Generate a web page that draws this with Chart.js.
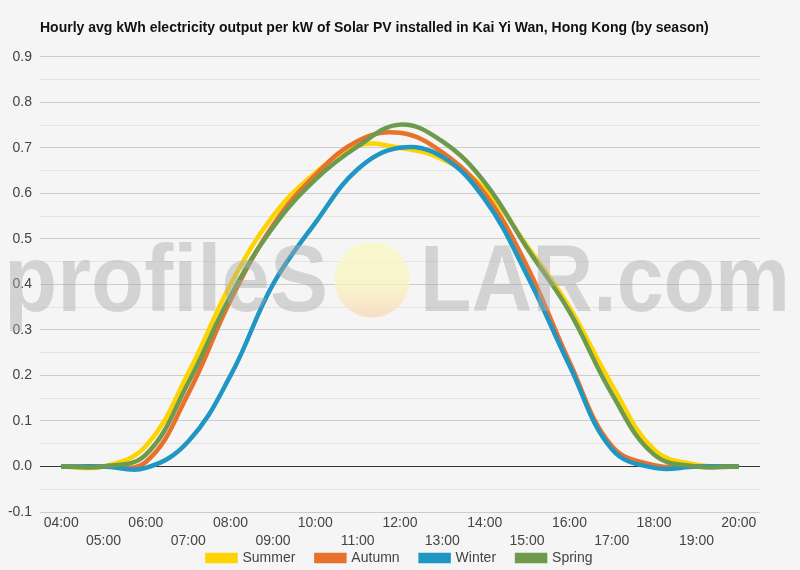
<!DOCTYPE html>
<html>
<head>
<meta charset="utf-8">
<script src="https://cdn.jsdelivr.net/npm/chart.js@4.4.1/dist/chart.umd.min.js"></script>
<style>
  html, body { margin: 0; padding: 0; background: #f5f5f5; }
  #wrap { width: 800px; height: 570px; position: relative; }
</style>
</head>
<body>
<div id="wrap"><canvas id="pv-chart"></canvas></div>
<script>
var hours = ["04:00","05:00","06:00","07:00","08:00","09:00","10:00","11:00","12:00",
             "13:00","14:00","15:00","16:00","17:00","18:00","19:00","20:00"];

var summer = [0, 0, 0.045, 0.205, 0.40, 0.55, 0.645, 0.705, 0.70, 0.675, 0.61, 0.485, 0.35, 0.18, 0.037, 0.004, 0];
var autumn = [0, 0, 0.010, 0.160, 0.365, 0.53, 0.64, 0.715, 0.733, 0.69, 0.60, 0.44, 0.23, 0.045, 0.003, 0, 0];
var winter = [0, 0, -0.003, 0.055, 0.20, 0.40, 0.535, 0.653, 0.70, 0.68, 0.587, 0.42, 0.222, 0.038, -0.003, 0, 0];
var spring = [0, 0, 0.026, 0.184, 0.375, 0.525, 0.63, 0.703, 0.751, 0.714, 0.624, 0.48, 0.34, 0.16, 0.026, 0, 0];

var yTicks = [-0.1, 0, 0.1, 0.2, 0.3, 0.4, 0.5, 0.6, 0.7, 0.8, 0.9];

var FONT = '"Liberation Sans", Arial, sans-serif';

var watermark = {
  id: 'watermark',
  afterDatasetsDraw: function(chart) {
    var ctx = chart.ctx;
    ctx.save();
    // sun as the "O"
    var g = ctx.createLinearGradient(0, 242, 0, 318);
    g.addColorStop(0, 'rgba(250,250,195,0.8)');
    g.addColorStop(0.6, 'rgba(250,242,195,0.8)');
    g.addColorStop(1, 'rgba(246,216,188,0.8)');
    ctx.fillStyle = g;
    ctx.beginPath();
    ctx.arc(372, 280, 37.5, 0, Math.PI * 2);
    ctx.fill();

    ctx.fillStyle = 'rgba(170,170,170,0.45)';
    ctx.font = 'bold 94px ' + FONT;
    ctx.textBaseline = 'alphabetic';
    function fitText(txt, x0, x1) {
      var w = ctx.measureText(txt).width;
      ctx.save();
      ctx.translate(x0, 311);
      ctx.scale((x1 - x0) / w, 1);
      ctx.fillText(txt, 0, 0);
      ctx.restore();
    }
    fitText('profileS', 4, 328);
    fitText('LAR.com', 420, 790);
    ctx.restore();
  }
};

function line(label, data, color, order) {
  return {
    label: label,
    data: data,
    borderColor: color,
    backgroundColor: color,
    borderWidth: 4.5,
    pointRadius: 0,
    pointHoverRadius: 0,
    tension: 0.4,
    fill: false,
    order: order
  };
}

new Chart(document.getElementById('pv-chart'), {
  type: 'line',
  data: {
    labels: hours,
    datasets: [
      line('Summer', summer, '#fdd400', 4),
      line('Autumn', autumn, '#e8712b', 3),
      line('Winter', winter, '#2096c3', 2),
      line('Spring', spring, '#6e9a4e', 1)
    ]
  },
  plugins: [watermark],
  options: {
    responsive: true,
    maintainAspectRatio: false,
    animation: false,
    layout: { padding: { left: 0, right: 40, top: 8, bottom: -5 } },
    plugins: {
      title: {
        display: true,
        text: 'Hourly avg kWh electricity output per kW of Solar PV installed in Kai Yi Wan, Hong Kong (by season)',
        align: 'start',
        fullSize: false,
        color: '#111',
        font: { family: FONT, size: 14, weight: 'bold' },
        padding: { top: 12, bottom: 20 }
      },
      legend: {
        position: 'bottom',
        fullSize: false,
        labels: {
          boxWidth: 28,
          boxHeight: 6,
          padding: 21,
          color: '#444',
          font: { family: FONT, size: 14 },
          sort: function(a, b) { return a.datasetIndex - b.datasetIndex; }
        }
      },
      tooltip: { enabled: false }
    },
    scales: {
      x: {
        offset: true,
        afterFit: function(s) {
          // squeeze the axis box so the legend sits close; the
          // staggered second row is allowed to draw below the box
          s.height = 18;
          s._computeLabelArea = function() {};
        },
        grid: { display: false, drawTicks: false },
        border: { display: false },
        ticks: {
          autoSkip: false,
          maxRotation: 0,
          padding: 2,
          color: '#444',
          font: { family: FONT, size: 14, lineHeight: 1.3 },
          callback: function(v, i) {
            return i % 2 === 0 ? hours[i] : ['', hours[i]];
          }
        }
      },
      y: {
        min: yTicks[0],
        max: yTicks[yTicks.length - 1],
        afterFit: function(s) { s.width = 40; },
        border: { display: false },
        grid: {
          drawTicks: false,
          lineWidth: 1,
          color: function(c) {
            var v = Math.round(c.tick.value * 100);
            if (v === 0) return '#333';
            return v % 10 === 0 ? '#cccccc' : '#e3e3e3';
          }
        },
        ticks: {
          stepSize: 0.05,
          padding: 8,
          color: '#444',
          font: { family: FONT, size: 14 },
          callback: function(v) {
            var r = Math.round(v * 100);
            return r % 10 === 0 ? (r / 100).toFixed(1) : '';
          }
        }
      }
    }
  }
});
</script>
</body>
</html>
